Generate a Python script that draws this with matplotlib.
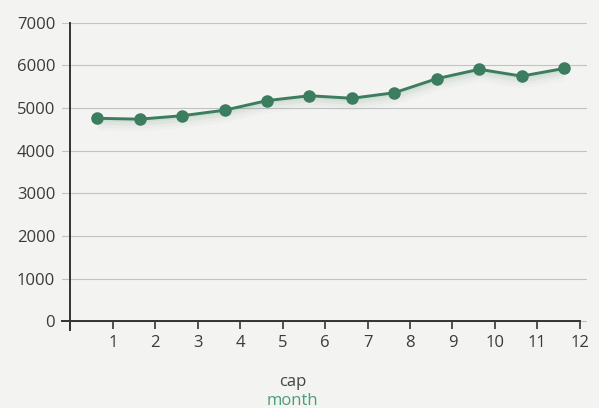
import matplotlib.pyplot as plt
import numpy as np

months = [1, 2, 3, 4, 5, 6, 7, 8, 9, 10, 11, 12]
values = [4760, 4740, 4820, 4950, 5175, 5290, 5230, 5360, 5690, 5910, 5750, 5930]
yticks = [0, 1000, 2000, 3000, 4000, 5000, 6000, 7000]
xticks = [0, 1, 2, 3, 4, 5, 6, 7, 8, 9, 10, 11, 12]
xlabels = ["", "1", "2", "3", "4", "5", "6", "7", "8", "9", "10", "11", "12"]

plt.rcParams['font.family'] = ['Open Sans', 'DejaVu Sans']

bg = "#f3f3f1"
green = "#3b7d5e"
txt = "#3a3a3a"

fig = plt.figure(figsize=(5.99, 4.08), dpi=100, facecolor=bg)
ax = fig.add_axes([0.1035, 0.192, 0.8765, 0.752], facecolor=bg)

# points sit a bit left of each tick in the original
x = np.array(months) - 0.37
y = np.array(values)

# soft green shadow under the line
for i, a in enumerate([0.07, 0.05, 0.035, 0.02]):
    ax.fill_between(x, y, y - 70 * (i + 1), color=green, alpha=a, lw=0)

ax.plot(x, y, color=green, lw=2.1, marker='o', ms=8, mfc=green, mec=green, zorder=5)

ax.set_xlim(-0.2, 12.17)
ax.set_ylim(-200, 7000)
ax.set_yticks(yticks)
ax.set_xticks(xticks)
ax.set_xticklabels(xlabels)

ax.grid(axis='y', color="#c2c2c2", lw=0.8)
ax.set_axisbelow(True)

for s in ['top', 'right']:
    ax.spines[s].set_visible(False)
ax.spines['left'].set_position(('data', 0))
ax.spines['bottom'].set_position(('data', 0))
ax.spines['left'].set_bounds(-200, 7000)
ax.spines['bottom'].set_bounds(-0.2, 12)
for s in ['left', 'bottom']:
    ax.spines[s].set_color("#333333")
    ax.spines[s].set_linewidth(1.4)

ax.tick_params(axis='y', length=0, pad=11, labelsize=12, labelcolor=txt)
ax.tick_params(axis='x', length=6, width=1.2, color="#333333", pad=4, labelsize=12, labelcolor=txt)

fig.text(0.489, 0.063, "cap", ha='center', va='center', fontsize=12, color="#444444")
fig.text(0.489, 0.016, "month", ha='center', va='center', fontsize=12, color="#4a9e78")

fig.savefig("out.png", dpi=100, facecolor=bg)
